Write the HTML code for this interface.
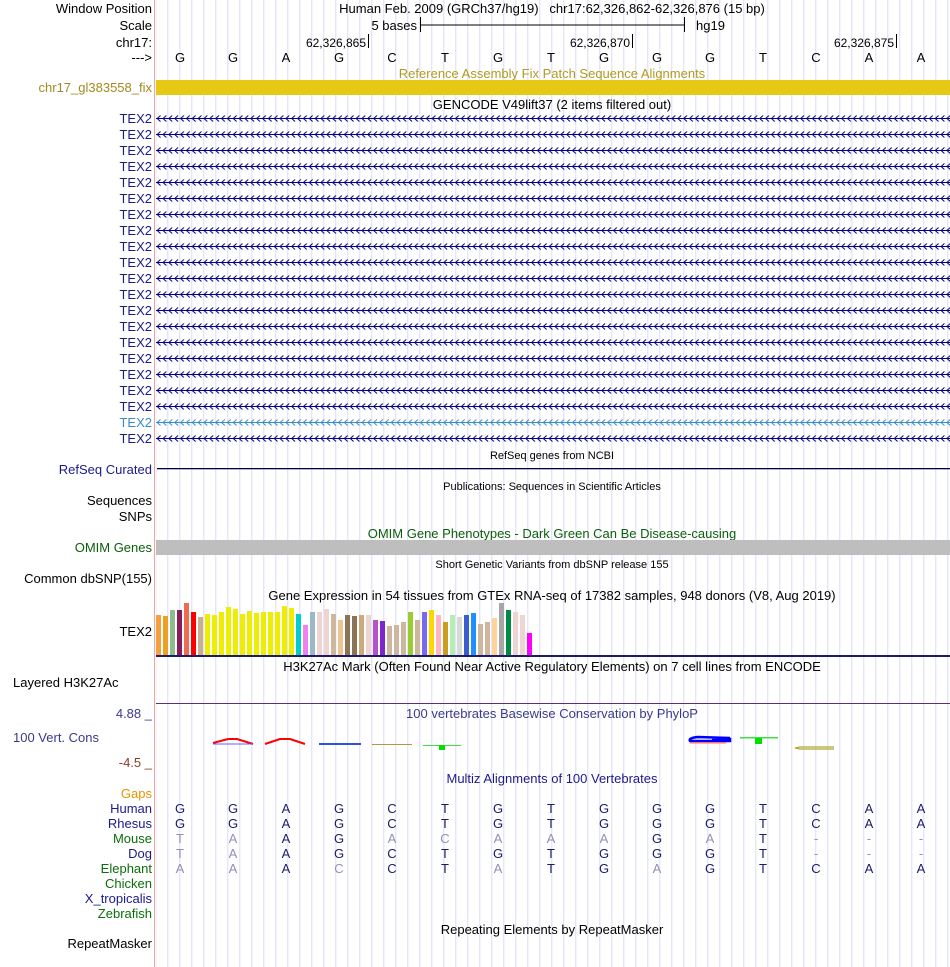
<!DOCTYPE html>
<html><head><meta charset="utf-8"><style>
html,body{margin:0;padding:0;background:#fff;}
svg{display:block;}
text{font-family:"Liberation Sans",sans-serif;}
</style></head><body>
<svg width="950" height="967" viewBox="0 0 950 967" xmlns="http://www.w3.org/2000/svg" font-size="13">
<defs>
<pattern id="grid" x="167.3" y="0" width="12" height="10" patternUnits="userSpaceOnUse">
<rect x="0" y="0" width="1" height="10" fill="#dcdcf5"/>
</pattern>
<pattern id="chevA" x="0" y="0" width="5.85" height="16" patternUnits="userSpaceOnUse">
<path d="M4.5,1.5 L1.2,4.5 L4.5,7.5" fill="none" stroke="#000080" stroke-width="1"/>
</pattern>
<pattern id="chevB" x="0" y="0" width="5.85" height="16" patternUnits="userSpaceOnUse">
<path d="M4.5,1.5 L1.2,4.5 L4.5,7.5" fill="none" stroke="#3a8cc8" stroke-width="1"/>
</pattern>
</defs>
<rect x="156" y="0" width="794" height="967" fill="url(#grid)"/>
<rect x="154" y="0" width="1" height="967" fill="#f4a0a0"/>

<g fill="#000">
<text x="152" y="13" text-anchor="end">Window Position</text>
<text x="152" y="30" text-anchor="end">Scale</text>
<text x="152" y="47" text-anchor="end">chr17:</text>
<text x="152" y="62" text-anchor="end">---&gt;</text>
<text x="552" y="13" text-anchor="middle">Human Feb. 2009 (GRCh37/hg19)&#160;&#160;&#160;chr17:62,326,862-62,326,876 (15 bp)</text>
<text x="417" y="30" text-anchor="end">5 bases</text>
<text x="696" y="30">hg19</text>
<text x="366" y="47" text-anchor="end" font-size="12">62,326,865</text>
<text x="630" y="47" text-anchor="end" font-size="12">62,326,870</text>
<text x="894" y="47" text-anchor="end" font-size="12">62,326,875</text>
</g>
<rect x="420" y="24.5" width="264" height="1" fill="#000"/>
<rect x="420" y="17" width="1" height="15" fill="#000"/>
<rect x="684" y="17" width="1" height="15" fill="#000"/>
<rect x="368" y="34" width="1" height="14" fill="#000"/>
<rect x="632" y="34" width="1" height="14" fill="#000"/>
<rect x="896" y="34" width="1" height="14" fill="#000"/>
<g fill="#000" text-anchor="middle">
<text x="180" y="62">G</text><text x="233" y="62">G</text><text x="286" y="62">A</text><text x="339" y="62">G</text><text x="392" y="62">C</text><text x="445" y="62">T</text><text x="498" y="62">G</text><text x="551" y="62">T</text><text x="604" y="62">G</text><text x="657" y="62">G</text><text x="710" y="62">G</text><text x="763" y="62">T</text><text x="816" y="62">C</text><text x="869" y="62">A</text><text x="921" y="62">A</text>
</g>

<text x="552" y="78" text-anchor="middle" fill="#b09a20">Reference Assembly Fix Patch Sequence Alignments</text>
<text x="152" y="92" text-anchor="end" fill="#a08a20">chr17_gl383558_fix</text>
<rect x="156" y="80" width="794" height="15" fill="#e5c914"/>

<text x="552" y="109" text-anchor="middle" fill="#000">GENCODE V49lift37 (2 items filtered out)</text>

<g fill="#1a1a8c" text-anchor="end">
<text x="152" y="123">TEX2</text><text x="152" y="139">TEX2</text><text x="152" y="155">TEX2</text><text x="152" y="171">TEX2</text><text x="152" y="187">TEX2</text><text x="152" y="203">TEX2</text><text x="152" y="219">TEX2</text><text x="152" y="235">TEX2</text><text x="152" y="251">TEX2</text><text x="152" y="267">TEX2</text><text x="152" y="283">TEX2</text><text x="152" y="299">TEX2</text><text x="152" y="315">TEX2</text><text x="152" y="331">TEX2</text><text x="152" y="347">TEX2</text><text x="152" y="363">TEX2</text><text x="152" y="379">TEX2</text><text x="152" y="395">TEX2</text><text x="152" y="411">TEX2</text><text x="152" y="427" fill="#3a8cc8">TEX2</text><text x="152" y="443">TEX2</text>
</g>
<g fill="#000080">
<rect x="156" y="118" width="794" height="1"/><rect x="156" y="134" width="794" height="1"/><rect x="156" y="150" width="794" height="1"/><rect x="156" y="166" width="794" height="1"/><rect x="156" y="182" width="794" height="1"/><rect x="156" y="198" width="794" height="1"/><rect x="156" y="214" width="794" height="1"/><rect x="156" y="230" width="794" height="1"/><rect x="156" y="246" width="794" height="1"/><rect x="156" y="262" width="794" height="1"/><rect x="156" y="278" width="794" height="1"/><rect x="156" y="294" width="794" height="1"/><rect x="156" y="310" width="794" height="1"/><rect x="156" y="326" width="794" height="1"/><rect x="156" y="342" width="794" height="1"/><rect x="156" y="358" width="794" height="1"/><rect x="156" y="374" width="794" height="1"/><rect x="156" y="390" width="794" height="1"/><rect x="156" y="406" width="794" height="1"/><rect x="156" y="438" width="794" height="1"/>
</g>
<rect x="156" y="422" width="794" height="1" fill="#3a8cc8"/>
<svg x="156" y="114" width="794" height="313"><rect width="794" height="313" fill="url(#chevA)"/></svg>
<svg x="156" y="418" width="794" height="9"><rect width="794" height="9" fill="#fff"/><rect width="794" height="9" fill="url(#grid)"/><rect y="4" width="794" height="1" fill="#3a8cc8"/><rect width="794" height="9" fill="url(#chevB)"/></svg>
<svg x="156" y="434" width="794" height="9"><rect width="794" height="9" fill="url(#chevA)"/></svg>

<text x="552" y="459" text-anchor="middle" fill="#000" font-size="11">RefSeq genes from NCBI</text>
<text x="152" y="474" text-anchor="end" fill="#1a1a8c">RefSeq Curated</text>
<rect x="157" y="468" width="793" height="1.3" fill="#000040"/>

<text x="552" y="490" text-anchor="middle" fill="#000" font-size="11">Publications: Sequences in Scientific Articles</text>
<text x="152" y="505" text-anchor="end">Sequences</text>
<text x="152" y="521" text-anchor="end">SNPs</text>

<text x="552" y="538" text-anchor="middle" fill="#0b5e0b">OMIM Gene Phenotypes - Dark Green Can Be Disease-causing</text>
<text x="152" y="552" text-anchor="end" fill="#0b5e0b">OMIM Genes</text>
<rect x="156" y="540" width="794" height="15" fill="#bebebe"/>

<text x="552" y="568" text-anchor="middle" fill="#000" font-size="11">Short Genetic Variants from dbSNP release 155</text>
<text x="152" y="583" text-anchor="end">Common dbSNP(155)</text>

<text x="552" y="600" text-anchor="middle" fill="#000">Gene Expression in 54 tissues from GTEx RNA-seq of 17382 samples, 948 donors (V8, Aug 2019)</text>
<text x="152" y="636" text-anchor="end">TEX2</text>
<rect x="156" y="655" width="794" height="2" fill="#1a1a6e"/>

<text x="552" y="671" text-anchor="middle" fill="#000">H3K27Ac Mark (Often Found Near Active Regulatory Elements) on 7 cell lines from ENCODE</text>
<text x="13" y="687" fill="#000">Layered H3K27Ac</text>
<rect x="156" y="703" width="794" height="1" fill="#5a2e7a"/>

<text x="552" y="718" text-anchor="middle" fill="#3a3a8c">100 vertebrates Basewise Conservation by PhyloP</text>
<text x="152" y="718" text-anchor="end" fill="#3a3a8c">4.88 _</text>
<text x="13" y="742" fill="#3a3a8c">100 Vert. Cons</text>
<text x="152" y="767" text-anchor="end" fill="#8b3a2a">-4.5 _</text>
<path d="M213,743 L228,739 L237,739 L253,744" fill="none" stroke="#ff0000" stroke-width="2"/>
<rect x="213" y="743.5" width="40" height="1" fill="#6060ff"/>
<path d="M265,744 L280,739 L290,739 L305,744" fill="none" stroke="#ff0000" stroke-width="2"/>
<rect x="319" y="743" width="42" height="2" fill="#3050e0"/>
<rect x="372" y="744" width="40" height="1" fill="#a8a040"/>
<rect x="423" y="745" width="38" height="1" fill="#40e040"/>
<rect x="439" y="745" width="6" height="5" fill="#00e000"/>
<path d="M730,738 L698,737 Q688,738 690,741 L730,741 L730,739 L712,739" fill="none" stroke="#0000ff" stroke-width="2.5"/>
<rect x="690" y="742" width="36" height="1.5" fill="#ff7070"/>
<rect x="740" y="737" width="38" height="1.5" fill="#40e040"/>
<rect x="755" y="738" width="7" height="6" fill="#00e000"/>
<path d="M834,747 L800,747 L795,748 L800,749 L834,749" fill="none" stroke="#b0a830" stroke-width="1.2"/>

<text x="552" y="783" text-anchor="middle" fill="#1a1a8c">Multiz Alignments of 100 Vertebrates</text>
<g text-anchor="end">
<text x="152" y="798" fill="#e69500">Gaps</text>
<text x="152" y="813" fill="#1a1a8c">Human</text>
<text x="152" y="828" fill="#1a1a8c">Rhesus</text>
<text x="152" y="843" fill="#0b6e0b">Mouse</text>
<text x="152" y="858" fill="#1a1a8c">Dog</text>
<text x="152" y="873" fill="#0b6e0b">Elephant</text>
<text x="152" y="888" fill="#0b6e0b">Chicken</text>
<text x="152" y="903" fill="#1a1a8c">X_tropicalis</text>
<text x="152" y="918" fill="#0b6e0b">Zebrafish</text>
</g>
<g text-anchor="middle" fill="#1a1a6e">
<text x="180" y="813">G</text><text x="233" y="813">G</text><text x="286" y="813">A</text><text x="339" y="813">G</text><text x="392" y="813">C</text><text x="445" y="813">T</text><text x="498" y="813">G</text><text x="551" y="813">T</text><text x="604" y="813">G</text><text x="657" y="813">G</text><text x="710" y="813">G</text><text x="763" y="813">T</text><text x="816" y="813">C</text><text x="869" y="813">A</text><text x="921" y="813">A</text>
<text x="180" y="828">G</text><text x="233" y="828">G</text><text x="286" y="828">A</text><text x="339" y="828">G</text><text x="392" y="828">C</text><text x="445" y="828">T</text><text x="498" y="828">G</text><text x="551" y="828">T</text><text x="604" y="828">G</text><text x="657" y="828">G</text><text x="710" y="828">G</text><text x="763" y="828">T</text><text x="816" y="828">C</text><text x="869" y="828">A</text><text x="921" y="828">A</text>
<text x="180" y="843" fill="#9090b8">T</text><text x="233" y="843" fill="#9090b8">A</text><text x="286" y="843">A</text><text x="339" y="843">G</text><text x="392" y="843" fill="#9090b8">A</text><text x="445" y="843" fill="#9090b8">C</text><text x="498" y="843" fill="#9090b8">A</text><text x="551" y="843" fill="#9090b8">A</text><text x="604" y="843" fill="#9090b8">A</text><text x="657" y="843">G</text><text x="710" y="843" fill="#9090b8">A</text><text x="763" y="843">T</text><text x="816" y="843" fill="#9090b8">-</text><text x="869" y="843" fill="#9090b8">-</text><text x="921" y="843" fill="#9090b8">-</text>
<text x="180" y="858" fill="#9090b8">T</text><text x="233" y="858" fill="#9090b8">A</text><text x="286" y="858">A</text><text x="339" y="858">G</text><text x="392" y="858">C</text><text x="445" y="858">T</text><text x="498" y="858">G</text><text x="551" y="858">T</text><text x="604" y="858">G</text><text x="657" y="858">G</text><text x="710" y="858">G</text><text x="763" y="858">T</text><text x="816" y="858" fill="#9090b8">-</text><text x="869" y="858" fill="#9090b8">-</text><text x="921" y="858" fill="#9090b8">-</text>
<text x="180" y="873" fill="#9090b8">A</text><text x="233" y="873" fill="#9090b8">A</text><text x="286" y="873">A</text><text x="339" y="873" fill="#9090b8">C</text><text x="392" y="873">C</text><text x="445" y="873">T</text><text x="498" y="873" fill="#9090b8">A</text><text x="551" y="873">T</text><text x="604" y="873">G</text><text x="657" y="873" fill="#9090b8">A</text><text x="710" y="873">G</text><text x="763" y="873">T</text><text x="816" y="873">C</text><text x="869" y="873">A</text><text x="921" y="873">A</text>
</g>

<text x="552" y="934" text-anchor="middle" fill="#000">Repeating Elements by RepeatMasker</text>
<text x="152" y="948" text-anchor="end">RepeatMasker</text>

<g>
<rect x="156" y="615" width="5" height="40" fill="#f4a040"/>
<rect x="163" y="616" width="5" height="39" fill="#f0a020"/>
<rect x="170" y="610" width="5" height="45" fill="#8fbc8f"/>
<rect x="177" y="610" width="5" height="45" fill="#8b1a5a"/>
<rect x="184" y="603" width="5" height="52" fill="#ee6a50"/>
<rect x="191" y="612" width="5" height="43" fill="#ff0000"/>
<rect x="198" y="617" width="5" height="38" fill="#c8b090"/>
<rect x="205" y="614" width="5" height="41" fill="#eeee00"/>
<rect x="212" y="615" width="5" height="40" fill="#eeee00"/>
<rect x="219" y="612" width="5" height="43" fill="#eeee00"/>
<rect x="226" y="607" width="5" height="48" fill="#eeee00"/>
<rect x="233" y="609" width="5" height="46" fill="#eeee00"/>
<rect x="240" y="614" width="5" height="41" fill="#eeee00"/>
<rect x="247" y="611" width="5" height="44" fill="#eeee00"/>
<rect x="254" y="613" width="5" height="42" fill="#eeee00"/>
<rect x="261" y="612" width="5" height="43" fill="#eeee00"/>
<rect x="268" y="612" width="5" height="43" fill="#eeee00"/>
<rect x="275" y="612" width="5" height="43" fill="#eeee00"/>
<rect x="282" y="606" width="5" height="49" fill="#eeee00"/>
<rect x="289" y="608" width="5" height="47" fill="#eeee00"/>
<rect x="296" y="614" width="5" height="41" fill="#00cdcd"/>
<rect x="303" y="625" width="5" height="30" fill="#ee82ee"/>
<rect x="310" y="612" width="5" height="43" fill="#9ab9c8"/>
<rect x="317" y="612" width="5" height="43" fill="#eed5d2"/>
<rect x="324" y="609" width="5" height="46" fill="#eed5d2"/>
<rect x="331" y="614" width="5" height="41" fill="#cdb79e"/>
<rect x="338" y="620" width="5" height="35" fill="#eec591"/>
<rect x="345" y="615" width="5" height="40" fill="#8b7355"/>
<rect x="352" y="616" width="5" height="39" fill="#8b7355"/>
<rect x="359" y="615" width="5" height="40" fill="#cdaa7d"/>
<rect x="366" y="615" width="5" height="40" fill="#eed5d2"/>
<rect x="373" y="620" width="5" height="35" fill="#b452cd"/>
<rect x="380" y="621" width="5" height="34" fill="#7d26cd"/>
<rect x="387" y="626" width="5" height="29" fill="#cdb79e"/>
<rect x="394" y="625" width="5" height="30" fill="#cdb79e"/>
<rect x="401" y="622" width="5" height="33" fill="#cdb79e"/>
<rect x="408" y="612" width="5" height="43" fill="#9acd32"/>
<rect x="415" y="620" width="5" height="35" fill="#cdb79e"/>
<rect x="422" y="612" width="5" height="43" fill="#7b68ee"/>
<rect x="429" y="610" width="5" height="45" fill="#ffd700"/>
<rect x="436" y="615" width="5" height="40" fill="#ffb6c1"/>
<rect x="443" y="622" width="5" height="33" fill="#cd9b1d"/>
<rect x="450" y="615" width="5" height="40" fill="#b4eeb4"/>
<rect x="457" y="617" width="5" height="38" fill="#d9d9d9"/>
<rect x="464" y="615" width="5" height="40" fill="#3a5fcd"/>
<rect x="471" y="613" width="5" height="42" fill="#1e90ff"/>
<rect x="478" y="624" width="5" height="31" fill="#cdb79e"/>
<rect x="485" y="622" width="5" height="33" fill="#cdb79e"/>
<rect x="492" y="618" width="5" height="37" fill="#ffd39b"/>
<rect x="499" y="603" width="5" height="52" fill="#a6a6a6"/>
<rect x="506" y="610" width="5" height="45" fill="#008b45"/>
<rect x="513" y="612" width="5" height="43" fill="#eed5d2"/>
<rect x="520" y="615" width="5" height="40" fill="#eed5d2"/>
<rect x="527" y="633" width="5" height="22" fill="#ff00ff"/>
</g>
</svg>
</body></html>
